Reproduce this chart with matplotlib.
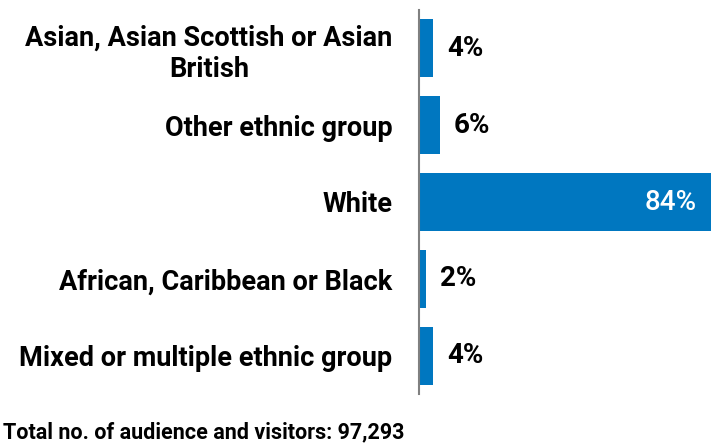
import matplotlib.pyplot as plt

categorias = ["Asian, Asian Scottish or Asian\nBritish", "Other ethnic group", "White",
              "African, Caribbean or Black", "Mixed or multiple ethnic group"]
porcentajes = [4, 6, 84, 2, 4]
etiquetas = ["4%", "6%", "84%", "2%", "4%"]
nota = "Total no. of audience and visitors: 97,293"

azul = "#0077c0"
plt.rcParams['font.family'] = ['Roboto', 'DejaVu Sans']

fig = plt.figure(figsize=(7.11, 4.43), dpi=100)
ax = fig.add_axes([419 / 711, 49 / 443, 292 / 711, 384 / 443])

pos = list(range(len(categorias)))
ax.barh(pos, porcentajes, height=0.755, color=azul)
ax.set_xlim(0, 84)
ax.set_ylim(len(categorias) - 0.5, -0.5)

for p, v, t in zip(pos, porcentajes, etiquetas):
    if v > 50:
        # la barra grande lleva el valor dentro, en blanco
        ax.annotate(t, (v, p), xytext=(-10, 0), textcoords="offset points",
                    ha="right", va="center", color="white", fontsize=20, fontweight="medium")
    else:
        ax.annotate(t, (v, p), xytext=(10, 0), textcoords="offset points",
                    ha="left", va="center", color="black", fontsize=20, fontweight="bold")

ax.set_yticks(pos)
ax.set_yticklabels(categorias, fontsize=19.5, fontweight="bold", multialignment="center")
ax.tick_params(axis="y", length=0, pad=19)
ax.set_xticks([])
for lado in ["top", "right", "bottom"]:
    ax.spines[lado].set_visible(False)
ax.spines["left"].set_color("#808080")
ax.spines["left"].set_linewidth(1.5)

fig.text(3 / 711, 1 - 432 / 443, nota, ha="left", va="center", fontsize=15.5, fontweight="bold")

fig.savefig("out.png", dpi=100)
